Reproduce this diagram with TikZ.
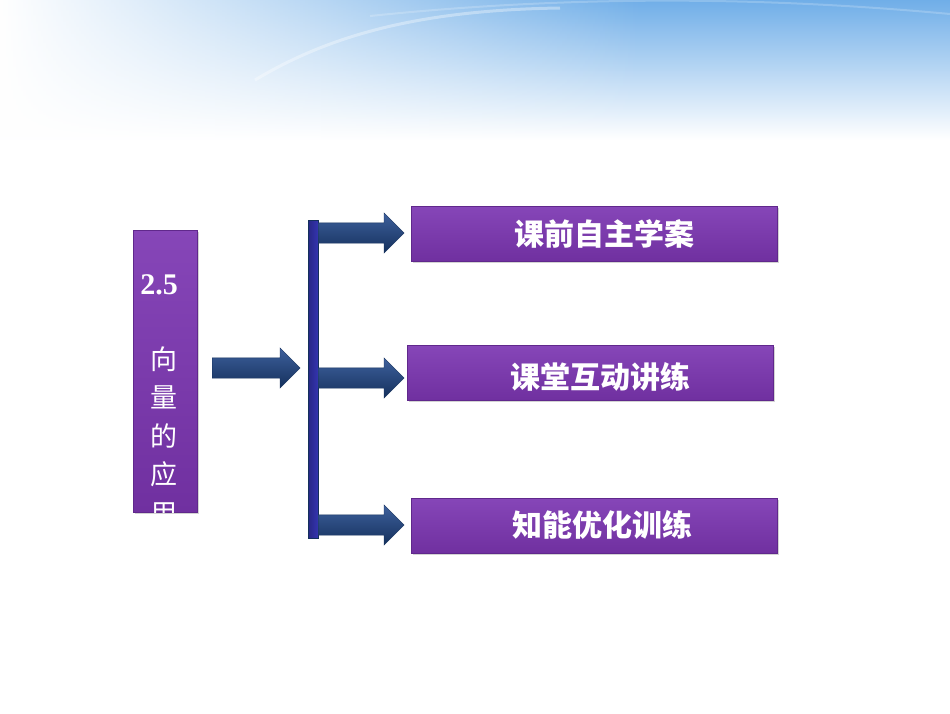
\documentclass[tikz,border=0pt]{standalone}
\usepackage{fontspec}
\newfontfamily\cjk{Noto Sans CJK SC}
\newfontfamily\numfont{Liberation Serif}
\usetikzlibrary{shapes.arrows, shadows, fadings}

\definecolor{skyblue}{RGB}{112,174,232}
\definecolor{boxtop}{RGB}{134,70,184}
\definecolor{boxbottom}{RGB}{112,48,160}
\definecolor{boxedge}{RGB}{96,40,140}
\definecolor{navytop}{RGB}{62,96,156}
\definecolor{navybottom}{RGB}{20,48,92}
\definecolor{barblue}{RGB}{52,52,176}
\tikzfading[name=fadeoutright, left color=transparent!0, right color=transparent!100]

\begin{document}
\begin{tikzpicture}[x=1pt, y=-1pt]
	\tikzstyle{Box} = [rectangle, draw=boxedge, top color=boxtop, bottom color=boxbottom, inner sep=0pt, drop shadow={shadow xshift=2pt, shadow yshift=-2pt, opacity=0.35}]
	\tikzstyle{Label} = [text=white, font=\cjk\bfseries\fontsize{30}{30}\selectfont]
	\tikzstyle{Char} = [text=white, font=\cjk\fontsize{27}{27}\selectfont]
	\tikzstyle{Arrow} = [single arrow, single arrow head extend=10pt, inner sep=10pt, draw=navybottom, top color=navytop, bottom color=navybottom, anchor=tail]
	
	\useasboundingbox (0,0) rectangle (950,713);
	% sky at the top
	\shade [top color=skyblue, bottom color=white] (0,0) rectangle (950,140);
	\fill [white, path fading=fadeoutright] (0,0) rectangle (640,140);
	\draw [white, opacity=0.35, line width=3pt] (255,80) .. controls (330,35) and (420,10) .. (560,8);
	\draw [white, opacity=0.2, line width=2pt] (370,16) .. controls (600,-8) and (800,0) .. (950,14);
	
	% left box
	\node (topic) [Box, minimum width=64pt, minimum height=282pt] at (165,371) {};
	\node (num) [text=white, font=\numfont\bfseries\fontsize{30}{30}\selectfont] at (159,285) {2.5};
	\begin{scope}
		\clip (133,230) rectangle (197,512);
		\node (c1) [Char] at (164,359) {向};
		\node (c2) [Char] at (164,397) {量};
		\node (c3) [Char] at (164,436) {的};
		\node (c4) [Char] at (164,474) {应};
		\node (c5) [Char] at (164,514) {用};
	\end{scope}
	
	% arrows and bar
	\node (a0) [Arrow, minimum height=88pt] at (212,368) {};
	\node (bar) [rectangle, draw=navybottom, left color=barblue!75!black, right color=barblue, minimum width=10pt, minimum height=318pt, inner sep=0pt] at (313,379) {};
	\node (a1) [Arrow, minimum height=86pt] at (318,233) {};
	\node (a2) [Arrow, minimum height=86pt] at (318,378) {};
	\node (a3) [Arrow, minimum height=86pt] at (318,525) {};
	
	% right boxes
	\node (b1) [Box, minimum width=366pt, minimum height=55pt] at (594,233.5) {};
	\node (b2) [Box, minimum width=366pt, minimum height=55pt] at (590,372.5) {};
	\node (b3) [Box, minimum width=366pt, minimum height=55pt] at (594,525.5) {};
	\node (t1) [Label] at (604,234) {课前自主学案};
	\node (t2) [Label] at (600,377) {课堂互动讲练};
	\node (t3) [Label] at (602,525) {知能优化训练};
\end{tikzpicture}
\end{document}
